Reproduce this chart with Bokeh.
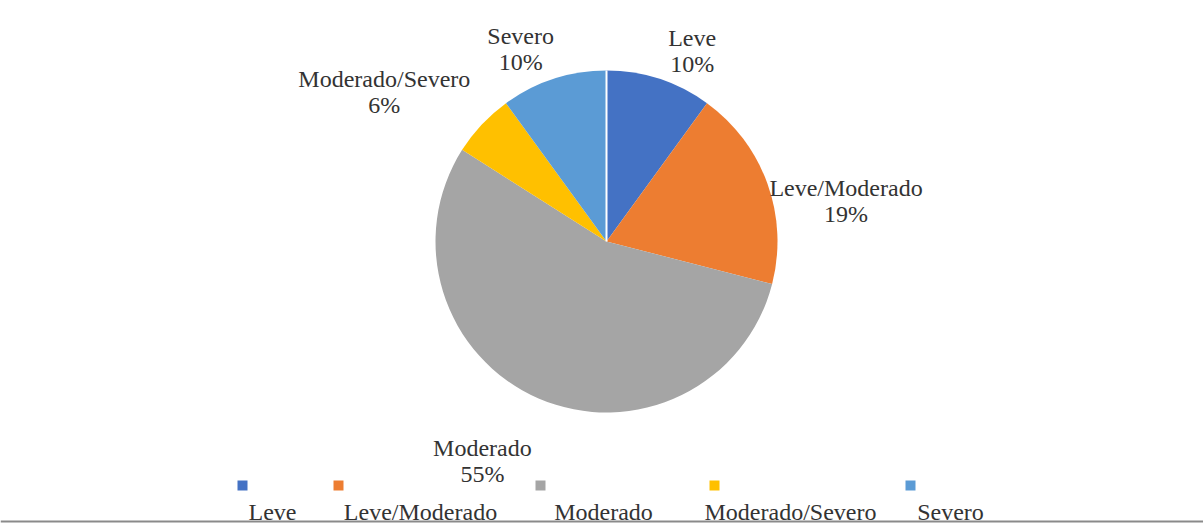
import math
from bokeh.plotting import figure
from bokeh.models import Range1d, Span
from bokeh.core.properties import value
from bokeh.embed import file_html
from bokeh.resources import INLINE

categories = ["Leve", "Leve/Moderado", "Moderado", "Moderado/Severo", "Severo"]
percents = [10, 19, 55, 6, 10]
colors = ["#4472C4", "#ED7D31", "#A5A5A5", "#FFC000", "#5B9BD5"]

# layout / style settings
W, H = 1203, 523
cx, cy, r = 606, 282, 171
label_dist = [209, 243, 252, 268, 211]
label_shift_deg = [-6.2, -10.1, -6.1, 9.2, 6.0]
legend_marker_x = [242, 338, 540, 714, 910]
legend_label_x = [272, 420, 603, 790, 950]
legend_marker_y = 38
legend_label_y = 12
font = value("Liberation Serif")
text_color = "#333333"
fs = "24px"

p = figure(width=W, height=H, output_backend="svg", toolbar_location=None,
           x_range=Range1d(0, W), y_range=Range1d(0, H),
           x_axis_type=None, y_axis_type=None, min_border=0)
p.grid.visible = False
p.outline_line_color = None
p.background_fill_color = "white"
p.border_fill_color = "white"

total = sum(percents)
starts, ends, mids = [], [], []
cum = 0
for v in percents:
    a0 = math.pi / 2 - 2 * math.pi * cum / total
    cum += v
    a1 = math.pi / 2 - 2 * math.pi * cum / total
    starts.append(a0)
    ends.append(a1)
    mids.append((a0 + a1) / 2)

p.wedge(x=[cx] * len(percents), y=[cy] * len(percents), radius=r,
        start_angle=starts, end_angle=ends, direction="clock",
        fill_color=colors, line_color=None)

# white separator at the start of the first slice
p.ray(x=[cx], y=[cy], length=r, angle=[starts[0]], line_color="white", line_width=2)

# data labels
lx, ly = [], []
for m, d, s in zip(mids, label_dist, label_shift_deg):
    a = m + math.radians(s)
    lx.append(cx + d * math.cos(a))
    ly.append(cy + d * math.sin(a))
p.text(x=lx, y=[y + 13 for y in ly], text=categories, text_font=font,
       text_font_size=fs, text_align="center", text_baseline="middle",
       text_color=text_color)
p.text(x=lx, y=[y - 13 for y in ly], text=[f"{v}%" for v in percents], text_font=font,
       text_font_size=fs, text_align="center", text_baseline="middle",
       text_color=text_color)

# legend
p.scatter(x=legend_marker_x, y=[legend_marker_y] * 5, marker="square", size=10,
          fill_color=colors, line_color=None)
p.text(x=legend_label_x, y=[legend_label_y] * 5, text=categories, text_font=font,
       text_font_size=fs, text_align="center", text_baseline="middle",
       text_color=text_color)

# bottom border line
p.add_layout(Span(location=2, dimension="width", line_color="#8a8a8a", line_width=2))

open("out.html", "w").write(file_html(p, INLINE))
